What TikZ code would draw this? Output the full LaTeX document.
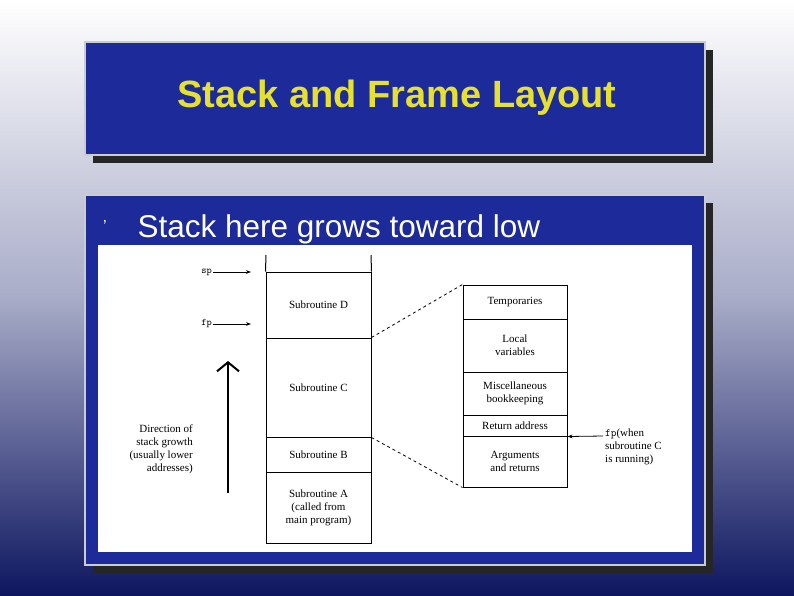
\documentclass[tikz,border=0pt]{standalone}
\usepackage{fontspec}
\setsansfont{Liberation Sans}
\setmainfont{Liberation Serif}
\usetikzlibrary{arrows.meta}
\definecolor{panel}{HTML}{1C2A9A}
\definecolor{navy}{HTML}{0E1660}
\definecolor{mid}{HTML}{A8ACC8}
\definecolor{ttl}{HTML}{E6E02E}
\tikzset{
  cell/.style={draw=black, line width=1pt, minimum width=105pt, align=center, font=\fontsize{11}{13}\selectfont, inner sep=0pt},
  frame/.style={cell, minimum width=104pt},
  lbl/.style={font=\fontsize{11}{13}\selectfont, inner sep=1pt},
  ptr/.style={-{Stealth[length=5pt]}, line width=0.8pt},
  panelbox/.style={fill=panel, draw=gray!40, line width=1.5pt}
}
\begin{document}
\begin{tikzpicture}[x=1pt,y=-1pt]
\shade[top color=white, bottom color=navy, middle color=mid] (0,0) rectangle (794,595);
\useasboundingbox (0,0) rectangle (794,595);
% title panel
\fill[black!85] (93,50) rectangle (713,163);
\path[panelbox] (85,42) rectangle (705,155);
\node[font=\sffamily\bfseries\fontsize{38}{42}\selectfont, text=ttl] (title) at (397,98) {Stack and Frame Layout};
% body panel
\fill[black!85] (93,203) rectangle (713,573);
\path[panelbox] (85,195) rectangle (705,565);
\node[font=\sffamily\fontsize{16}{16}\selectfont, text=white] (bul) at (105,226) {'};
\node[font=\sffamily\fontsize{31.5}{34}\selectfont, text=white, anchor=west] (body) at (134,229) {Stack here grows toward low};
\fill[white] (98,245) rectangle (692,552);
% left stack
\node[cell, minimum height=66pt] (D) at (318.5,305) {Subroutine D};
\node[cell, minimum height=99pt] (C) at (318.5,387.5) {Subroutine C};
\node[cell, minimum height=35pt] (B) at (318.5,454.5) {Subroutine B};
\node[cell, minimum height=71pt] (A) at (318.5,507.5) {Subroutine A\\(called from\\main program)};
\coordinate (tl) at (266,255); \coordinate (tr) at (371,255);
\draw[line width=1pt] (tl) -- (D.north west) (tr) -- (D.north east);
% pointers
\node[lbl, font=\ttfamily\fontsize{10}{11}\selectfont, anchor=east] (sp) at (213,272) {sp};
\coordinate (spt) at (251,272);
\draw[ptr] (sp) -- (spt);
\node[lbl, font=\ttfamily\fontsize{10}{11}\selectfont, anchor=east] (fp) at (213,324) {fp};
\coordinate (fpt) at (251,324);
\draw[ptr] (fp) -- (fpt);
% growth arrow
\coordinate (g1) at (228,493); \coordinate (g2) at (228,361);
\draw[line width=2pt, -{Straight Barb[length=9pt,width=22pt,line width=2pt]}] (g1) -- (g2);
\node[lbl, anchor=east, align=right] (dir) at (194,449) {Direction of\\stack growth\\(usually lower\\addresses)};
% frame
\node[frame, minimum height=34pt] (T) at (515,302) {Temporaries};
\node[frame, minimum height=53pt] (L) at (515,345.5) {Local\\variables};
\node[frame, minimum height=43pt] (M) at (515,393.5) {Miscellaneous\\bookkeeping};
\node[frame, minimum height=21pt] (R) at (515,425.5) {Return address};
\node[frame, minimum height=51pt] (G) at (515,461.5) {Arguments\\and returns};
\draw[line width=1.8pt] (R.south west) -- (R.south east);
\draw[dashed, line width=0.8pt] (C.north east) -- (T.north west);
\draw[dashed, line width=0.8pt] (C.south east) -- (G.south west);
\node[lbl, anchor=north west, align=left] (fpc) at (604,428) {\texttt{fp}(when\\subroutine C\\is running)};
\coordinate (fps) at (603,436);
\draw[ptr] (fps) -- (R.south east);
\end{tikzpicture}
\end{document}
